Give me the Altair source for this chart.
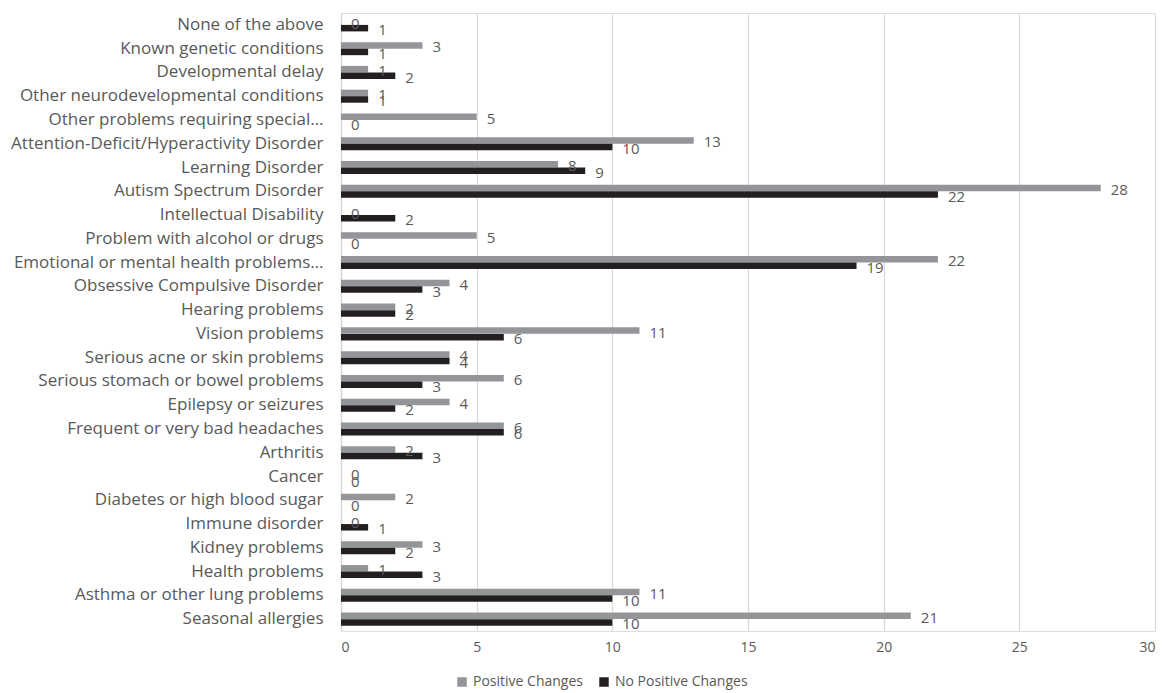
import altair as alt
import pandas as pd

# Conditions, listed top to bottom
categories = [
    "None of the above",
    "Known genetic conditions",
    "Developmental delay",
    "Other neurodevelopmental conditions",
    "Other problems requiring special…",
    "Attention-Deficit/Hyperactivity Disorder",
    "Learning Disorder",
    "Autism Spectrum Disorder",
    "Intellectual Disability",
    "Problem with alcohol or drugs",
    "Emotional or mental health problems…",
    "Obsessive Compulsive Disorder",
    "Hearing problems",
    "Vision problems",
    "Serious acne or skin problems",
    "Serious stomach or bowel problems",
    "Epilepsy or seizures",
    "Frequent or very bad headaches",
    "Arthritis",
    "Cancer",
    "Diabetes or high blood sugar",
    "Immune disorder",
    "Kidney problems",
    "Health problems",
    "Asthma or other lung problems",
    "Seasonal allergies",
]

positive_changes = [0, 3, 1, 1, 5, 13, 8, 28, 0, 5, 22, 4, 2, 11, 4, 6, 4, 6, 2, 0, 2, 0, 3, 1, 11, 21]
no_positive_changes = [1, 1, 2, 1, 0, 10, 9, 22, 2, 0, 19, 3, 2, 6, 4, 3, 2, 6, 3, 0, 0, 1, 2, 3, 10, 10]

series_names = ["Positive Changes", "No Positive Changes"]
series_colors = ["#939598", "#231f20"]
x_ticks = [0, 5, 10, 15, 20, 25, 30]

rows = []
for cat, p, n in zip(categories, positive_changes, no_positive_changes):
    rows.append({"condition": cat, "series": series_names[0], "value": p})
    rows.append({"condition": cat, "series": series_names[1], "value": n})
df = pd.DataFrame(rows)

FONT = "Open Sans"
TEXT_COLOR = "#595959"

y_enc = alt.Y(
    "condition:N",
    sort=categories,
    title=None,
    scale=alt.Scale(paddingInner=0.45, paddingOuter=0.225),
    axis=alt.Axis(
        labelFont=FONT,
        labelFontSize=17,
        labelColor=TEXT_COLOR,
        labelPadding=18,
        ticks=False,
        domainColor="#d9d9d9",
        domainWidth=1.5,
        labelLimit=400,
    ),
)
x_enc = alt.X(
    "value:Q",
    title=None,
    scale=alt.Scale(domain=[0, 30], nice=False),
    axis=alt.Axis(
        values=x_ticks,
        labelFont=FONT,
        labelFontSize=14,
        labelColor=TEXT_COLOR,
        labelPadding=9,
        ticks=False,
        domain=False,
        grid=True,
        gridColor="#d9d9d9",
        gridWidth=1.2,
    ),
)
y_off = alt.YOffset("series:N", sort=series_names)

bars = alt.Chart(df).mark_bar(size=6.5).encode(
    y=y_enc,
    x=x_enc,
    yOffset=y_off,
    color=alt.Color(
        "series:N",
        sort=series_names,
        scale=alt.Scale(domain=series_names, range=series_colors),
        legend=alt.Legend(
            title=None,
            orient="none",
            direction="horizontal",
            legendX=114,
            legendY=662,
            symbolType="square",
            symbolSize=90,
            symbolStrokeWidth=0,
            labelFont=FONT,
            labelFontSize=14,
            labelColor=TEXT_COLOR,
            columnPadding=14,
            labelOffset=4,
        ),
    ),
)

labels = alt.Chart(df).mark_text(
    align="left", baseline="middle", dx=10, dy=2,
    font=FONT, fontSize=15, color=TEXT_COLOR,
).encode(
    y=alt.Y("condition:N", sort=categories),
    x=alt.X("value:Q"),
    yOffset=y_off,
    text=alt.Text("value:Q"),
)

chart = (
    alt.layer(bars, labels)
    .properties(
        width=814,
        height=618,
        autosize=alt.AutoSizeParams(type="none"),
        padding={"left": 341, "top": 13, "right": 9, "bottom": 62},
    )
    .configure_view(stroke=None)
    .configure(background="white")
)

chart.save("out.html", embed_options={"renderer": "svg", "actions": False})
